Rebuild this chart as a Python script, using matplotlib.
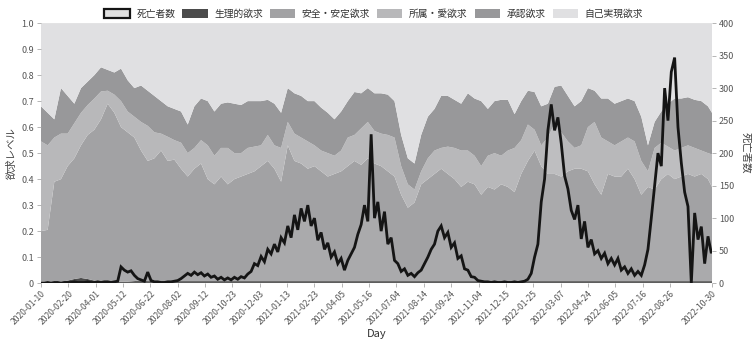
import matplotlib
matplotlib.use("Agg")
import matplotlib.pyplot as plt
from matplotlib.patches import Patch

plt.rcParams['font.family'] = ['Noto Sans CJK JP', 'DejaVu Sans']

# category positions (one per day in the data, some dates missing)
area_idx = list(range(0, 1001, 10)) + [1006]
death_idx = list(range(0, 1006, 5)) + [1006]

# 生理的欲求
physio = [0.005, 0.005, 0.005, 0.005, 0.010, 0.016, 0.020, 0.016, 0.010, 0.006,
          0.006, 0.006, 0.006, 0.006, 0.008, 0.010, 0.008, 0.008, 0.008, 0.008,
          0.008, 0.008, 0.008, 0.008, 0.008, 0.008, 0.008, 0.008, 0.008, 0.008,
          0.008, 0.008, 0.008, 0.008, 0.008, 0.008, 0.008, 0.008, 0.008, 0.008,
          0.008, 0.008, 0.008, 0.008, 0.008, 0.008, 0.008, 0.008, 0.008, 0.008,
          0.008, 0.008, 0.008, 0.008, 0.008, 0.008, 0.008, 0.008, 0.008, 0.008,
          0.008, 0.008, 0.008, 0.008, 0.008, 0.008, 0.008, 0.008, 0.008, 0.008,
          0.008, 0.008, 0.008, 0.008, 0.008, 0.008, 0.008, 0.008, 0.008, 0.008,
          0.008, 0.008, 0.008, 0.008, 0.008, 0.008, 0.008, 0.008, 0.008, 0.008,
          0.008, 0.008, 0.008, 0.008, 0.008, 0.008, 0.008, 0.008, 0.008, 0.008,
          0.008, 0.008]
# 安全・安定欲求
safety = [0.195, 0.200, 0.385, 0.395, 0.440, 0.464, 0.510, 0.554, 0.580, 0.624,
          0.684, 0.649, 0.594, 0.574, 0.552, 0.500, 0.462, 0.472, 0.502, 0.462,
          0.467, 0.432, 0.402, 0.432, 0.452, 0.392, 0.372, 0.402, 0.372, 0.392,
          0.402, 0.412, 0.422, 0.442, 0.462, 0.432, 0.382, 0.522, 0.462, 0.452,
          0.432, 0.442, 0.422, 0.402, 0.412, 0.422, 0.442, 0.462, 0.447, 0.472,
          0.452, 0.442, 0.422, 0.402, 0.332, 0.282, 0.302, 0.372, 0.392, 0.412,
          0.432, 0.412, 0.392, 0.362, 0.382, 0.372, 0.332, 0.362, 0.352, 0.372,
          0.362, 0.342, 0.412, 0.462, 0.502, 0.442, 0.412, 0.412, 0.402, 0.422,
          0.432, 0.432, 0.422, 0.372, 0.332, 0.412, 0.402, 0.402, 0.432, 0.392,
          0.332, 0.362, 0.352, 0.392, 0.412, 0.392, 0.402, 0.412, 0.402, 0.412,
          0.392, 0.362]
# 所属・愛欲求
belonging = [0.345, 0.325, 0.170, 0.175, 0.125, 0.135, 0.125, 0.115, 0.120, 0.107,
             0.050, 0.070, 0.100, 0.080, 0.080, 0.110, 0.135, 0.100, 0.065, 0.093,
             0.075, 0.100, 0.090, 0.080, 0.090, 0.130, 0.110, 0.110, 0.140, 0.100,
             0.090, 0.100, 0.095, 0.080, 0.100, 0.090, 0.130, 0.090, 0.105, 0.100,
             0.105, 0.080, 0.080, 0.090, 0.070, 0.080, 0.110, 0.100, 0.140, 0.140,
             0.125, 0.125, 0.140, 0.150, 0.110, 0.090, 0.050, 0.050, 0.080, 0.090,
             0.080, 0.105, 0.120, 0.140, 0.120, 0.110, 0.110, 0.120, 0.140, 0.110,
             0.140, 0.170, 0.130, 0.140, 0.080, 0.080, 0.140, 0.195, 0.170, 0.115,
             0.080, 0.090, 0.170, 0.240, 0.220, 0.125, 0.120, 0.135, 0.120, 0.145,
             0.130, 0.060, 0.160, 0.140, 0.105, 0.110, 0.110, 0.110, 0.110, 0.090,
             0.100, 0.125]
# 承認欲求
esteem = [0.135, 0.125, 0.070, 0.175, 0.145, 0.075, 0.095, 0.090, 0.090, 0.093,
          0.080, 0.085, 0.125, 0.120, 0.110, 0.140, 0.135, 0.140, 0.125, 0.117,
          0.120, 0.120, 0.110, 0.160, 0.160, 0.170, 0.170, 0.170, 0.175, 0.190,
          0.185, 0.180, 0.175, 0.170, 0.135, 0.160, 0.135, 0.130, 0.155, 0.160,
          0.155, 0.170, 0.165, 0.155, 0.140, 0.150, 0.140, 0.165, 0.135, 0.130,
          0.145, 0.155, 0.155, 0.140, 0.120, 0.100, 0.100, 0.140, 0.160, 0.160,
          0.200, 0.195, 0.185, 0.180, 0.220, 0.220, 0.250, 0.180, 0.200, 0.215,
          0.195, 0.130, 0.150, 0.130, 0.145, 0.150, 0.130, 0.140, 0.180, 0.175,
          0.160, 0.170, 0.150, 0.120, 0.150, 0.165, 0.160, 0.155, 0.150, 0.155,
          0.170, 0.100, 0.100, 0.120, 0.165, 0.200, 0.190, 0.185, 0.185, 0.190,
          0.180, 0.160]
# 自己実現欲求
self_act = [0.320, 0.345, 0.370, 0.250, 0.280, 0.310, 0.250, 0.225, 0.200, 0.170,
            0.180, 0.190, 0.175, 0.220, 0.250, 0.240, 0.260, 0.280, 0.300, 0.320,
            0.330, 0.340, 0.390, 0.320, 0.290, 0.300, 0.340, 0.310, 0.305, 0.310,
            0.315, 0.300, 0.300, 0.300, 0.295, 0.310, 0.345, 0.250, 0.270, 0.280,
            0.300, 0.300, 0.325, 0.345, 0.370, 0.340, 0.300, 0.265, 0.270, 0.250,
            0.270, 0.270, 0.275, 0.300, 0.430, 0.520, 0.540, 0.430, 0.360, 0.330,
            0.280, 0.280, 0.295, 0.310, 0.270, 0.290, 0.300, 0.330, 0.300, 0.295,
            0.295, 0.350, 0.300, 0.260, 0.265, 0.320, 0.310, 0.245, 0.240, 0.280,
            0.320, 0.300, 0.250, 0.260, 0.290, 0.290, 0.310, 0.300, 0.290, 0.300,
            0.360, 0.470, 0.380, 0.340, 0.310, 0.290, 0.290, 0.285, 0.295, 0.300,
            0.320, 0.345]

# 死亡者数
deaths = [0, 0, 1, 0, 1, 1, 0, 1, 1, 1, 2, 1, 1, 1, 2, 1, 1, 2, 1, 2, 2, 1, 2, 3,
          25, 20, 17, 19, 12, 7, 5, 3, 17, 4, 2, 2, 1, 1, 2, 2, 3, 4, 7, 11, 15,
          12, 17, 13, 16, 11, 14, 9, 11, 6, 9, 5, 8, 5, 9, 6, 10, 8, 14, 18, 30,
          27, 41, 33, 52, 45, 60, 48, 70, 62, 88, 70, 105, 82, 115, 95, 120, 88,
          100, 66, 78, 52, 62, 40, 48, 30, 38, 20, 35, 45, 55, 75, 90, 120, 95,
          229, 100, 125, 80, 110, 60, 70, 35, 30, 18, 22, 12, 15, 10, 16, 20, 30,
          40, 52, 60, 80, 88, 70, 78, 55, 62, 38, 42, 22, 20, 10, 9, 4, 3,
          2, 2, 1, 2, 1, 1, 2, 1, 1, 2, 1, 2, 3, 6, 15, 40, 60, 125, 160, 235,
          275, 235, 255, 215, 165, 145, 112, 98, 120, 68, 95, 55, 67, 45, 50, 38,
          46, 30, 38, 28, 38, 20, 25, 15, 22, 12, 18, 12, 28, 52, 100, 150, 200,
          180, 300, 250, 325, 347, 240, 185, 140, 118, 0, 108, 67, 87, 30, 72, 46,
          50]

tick_labels = ['2020-01-10', '2020-02-20', '2020-04-01', '2020-05-12', '2020-06-22',
               '2020-08-02', '2020-09-12', '2020-10-23', '2020-12-03', '2021-01-13',
               '2021-02-23', '2021-04-05', '2021-05-16', '2021-07-04', '2021-08-14',
               '2021-09-24', '2021-11-04', '2021-12-15', '2022-01-25', '2022-03-07',
               '2022-04-24', '2022-06-05', '2022-07-16', '2022-08-26', '2022-10-30']
tick_pos = [41 * i for i in range(len(tick_labels) - 1)] + [1006]

layer_names = ['生理的欲求', '安全・安定欲求', '所属・愛欲求', '承認欲求', '自己実現欲求']
layer_colors = ['#4b4b4b', '#a2a2a4', '#b8b8ba', '#98989a', '#e0e0e2']

fig = plt.figure(figsize=(7.52, 3.5), dpi=100)
ax = fig.add_axes([0.0545, 0.191, 0.8923, 0.743])

ax.stackplot(area_idx, physio, safety, belonging, esteem, self_act,
             colors=layer_colors, linewidth=0)
ax.set_xlim(0, 1006)
ax.set_ylim(0, 1)
ax.set_yticks([i / 10 for i in range(11)])
ax.set_yticklabels(['0'] + [f'{i / 10:.1f}' for i in range(1, 11)])

ax2 = ax.twinx()
ax2.fill_between(death_idx, deaths, 0, color='#ececec', alpha=0.12, linewidth=0)
ax2.plot(death_idx, deaths, color='#151515', lw=2.0, solid_joinstyle='miter')
ax2.set_ylim(0, 400)
ax2.set_yticks(range(0, 401, 50))

ax.set_xticks(tick_pos)
ax.set_xticklabels(tick_labels, rotation=45, ha='right', rotation_mode='anchor')

for a in (ax, ax2):
    for s in a.spines.values():
        s.set_visible(False)
    a.tick_params(length=3, width=0.6, color='#aaaaaa', labelcolor='#555555',
                  labelsize=6.5, pad=2)
ax.tick_params(axis='x', labelsize=6.2, pad=1)

ax.set_xlabel('Day', fontsize=8, color='#333333', labelpad=2)
ax.set_ylabel('欲求レベル', fontsize=7.5, color='#444444', labelpad=3)
ax2.set_ylabel('死亡者数', fontsize=7.5, color='#444444', rotation=-90, labelpad=12)

handles = [Patch(facecolor='#e0e0e0', edgecolor='#151515', linewidth=1.6)]
handles += [Patch(facecolor=c, edgecolor='none') for c in layer_colors]
fig.legend(handles, ['死亡者数'] + layer_names, loc='upper center',
           bbox_to_anchor=(0.497, 1.0), ncol=6, frameon=False, fontsize=7,
           handlelength=2.6, handleheight=0.95, handletextpad=0.7,
           columnspacing=0.7, labelcolor='#333333')

fig.savefig('out.png', dpi=100)
